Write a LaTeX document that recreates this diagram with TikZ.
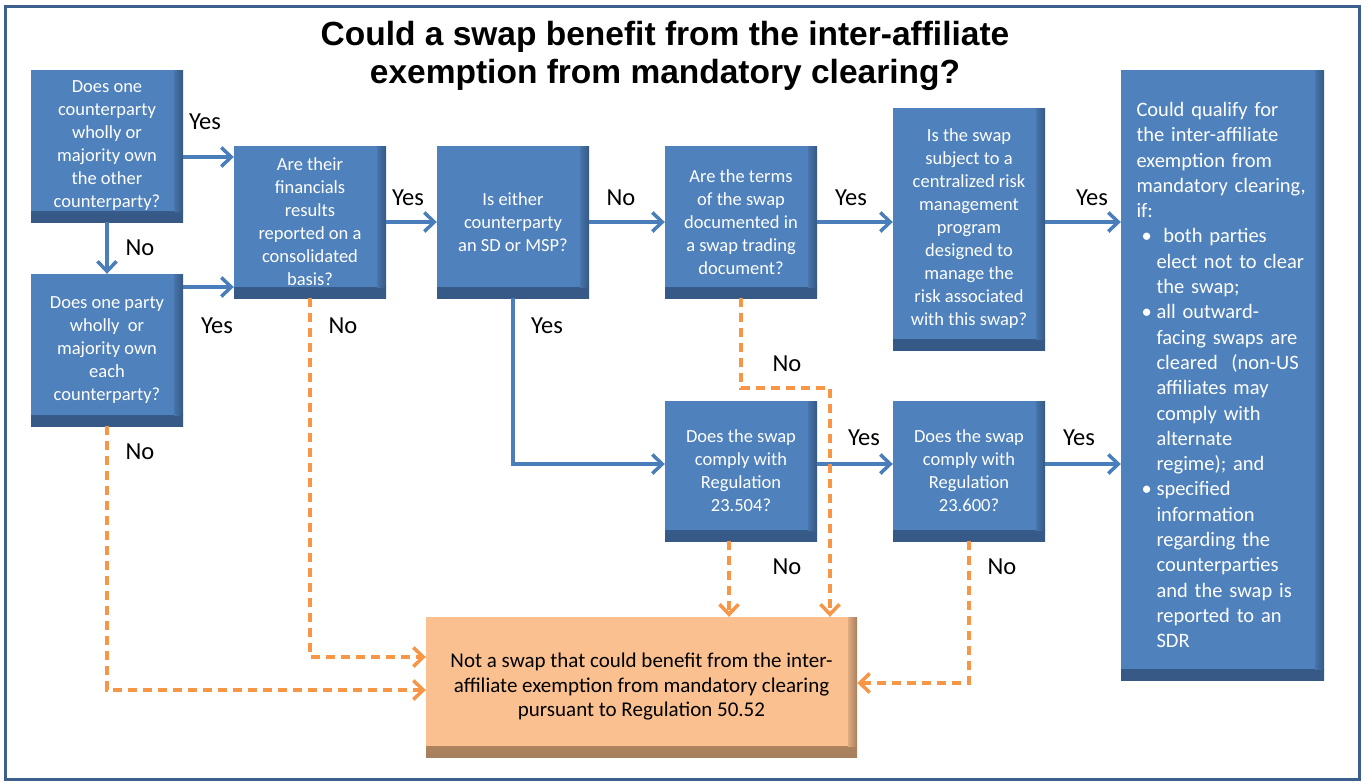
\documentclass[tikz,border=0pt]{standalone}
\usepackage{fontspec}
\setmainfont{Carlito}
\newfontfamily\titlefont{Liberation Sans}
\usetikzlibrary{arrows.meta}

\definecolor{boxblue}{HTML}{4F81BD}
\definecolor{boxdark}{HTML}{2D4B73}
\definecolor{lineblue}{HTML}{4A7EBB}
\definecolor{noorange}{HTML}{F79646}
\definecolor{outfill}{HTML}{FAC090}
\definecolor{outdark}{HTML}{8C6A4C}
\definecolor{frameblue}{HTML}{3C5F8D}

% soft edge shadings, dark at the far end
\pgfdeclareverticalshading{qbottom}{100bp}{color(0bp)=(boxdark); color(100bp)=(boxblue)}
\pgfdeclarehorizontalshading{qright}{100bp}{color(0bp)=(boxblue); color(100bp)=(boxdark)}
\pgfdeclareverticalshading{obottom}{100bp}{color(0bp)=(outdark); color(100bp)=(outfill)}
\pgfdeclarehorizontalshading{oright}{100bp}{color(0bp)=(outfill); color(100bp)=(outdark)}

\tikzset{
  qbox/.style={fill=boxblue, text=white, inner sep=0pt, align=center,
    font=\fontsize{18.5}{23}\selectfont,
    path picture={
      \shade[shading=qbottom]
        ([yshift=11pt]path picture bounding box.south west) rectangle (path picture bounding box.south east);
      \shade[shading=qright]
        ([xshift=-9pt]path picture bounding box.north east) rectangle ([yshift=11pt]path picture bounding box.south east);
    }},
  outbox/.style={fill=outfill, text=black, inner sep=0pt, align=center,
    font=\fontsize{21}{24.5}\selectfont,
    path picture={
      \shade[shading=obottom]
        ([yshift=11pt]path picture bounding box.south west) rectangle (path picture bounding box.south east);
      \shade[shading=oright]
        ([xshift=-9pt]path picture bounding box.north east) rectangle ([yshift=11pt]path picture bounding box.south east);
    }},
  ans/.style={inner sep=0pt, font=\fontsize{24.5}{28}\selectfont},
  yesline/.style={lineblue, line width=3.5pt, -{Straight Barb[length=10pt,width=19pt,line width=3.5pt]}},
  noline/.style={noorange, line width=3.5pt, dash pattern=on 9pt off 6pt,
    -{Straight Barb[length=10pt,width=19pt,line width=3.5pt]}}
}

\newcommand{\bul}{\makebox[20pt][l]{\hspace{5pt}\textbullet}}
\newcommand{\ind}{\hspace*{20pt}}

\begin{document}
\begin{tikzpicture}[x=1pt, y=-1pt]
  \useasboundingbox (0,0) rectangle (1364,782);
  \fill[white] (0,0) rectangle (1364,782);
  \draw[frameblue, line width=3pt] (5.5,6.5) rectangle (1359,779.5);

  \node[align=center, font=\titlefont\bfseries\fontsize{33.5}{38}\selectfont] (title) at (665,56)
    {Could a swap benefit from the inter-affiliate\\exemption from mandatory clearing?};

  % question boxes
  \node[qbox, minimum width=152, minimum height=152] (A) at (107,146)
    {Does one\\counterparty\\wholly or\\majority own\\the other\\counterparty?};
  \node[qbox, minimum width=152, minimum height=152] (B) at (107,350)
    {Does one party\\wholly\ \ or\\majority own\\each\\counterparty?};
  \node[qbox, minimum width=152, minimum height=152] (C) at (310,222)
    {Are their\\financials\\results\\reported on a\\consolidated\\basis?};
  \node[qbox, minimum width=152, minimum height=152] (D) at (513,222)
    {Is either\\counterparty\\an SD or MSP?};
  \node[qbox, minimum width=152, minimum height=152] (E) at (741,222)
    {Are the terms\\of the swap\\documented in\\a swap trading\\document?};
  \node[qbox, minimum width=152, minimum height=242] (F) at (969,229)
    {Is the swap\\subject to a\\centralized risk\\management\\program\\designed to\\manage the\\risk associated\\with this swap?};
  \node[qbox, minimum width=152, minimum height=140] (H) at (741,471)
    {Does the swap\\comply with\\Regulation\\23.504?};
  \node[qbox, minimum width=152, minimum height=140] (I) at (969,471)
    {Does the swap\\comply with\\Regulation\\23.600?};

  % outcomes
  \node[qbox, align=left, text width=172pt, minimum width=203, minimum height=610,
    font=\fontsize{20.5}{25.3}\selectfont] (G) at (1222.5,375)
    {Could qualify for\\the inter-affiliate\\exemption from\\mandatory clearing,\\if:\\
     \bul\ both parties\\\ind elect not to clear\\\ind the swap;\\
     \bul all outward-\\\ind facing swaps are\\\ind cleared\ \ (non-US\\\ind affiliates may\\\ind comply with\\\ind alternate\\\ind regime); and\\
     \bul specified\\\ind information\\\ind regarding the\\\ind counterparties\\\ind and the swap is\\\ind reported to an\\\ind SDR};
  \node[outbox, minimum width=431, minimum height=140] (J) at (641.5,687)
    {Not a swap that could benefit from the inter-\\affiliate exemption from mandatory clearing\\pursuant to Regulation 50.52};

  % yes paths
  \draw[yesline] ([yshift=-11pt]A.east) -- ([yshift=-11pt]A.east -| C.west);
  \draw[yesline] ([yshift=63pt]B.east) -- ([yshift=63pt]B.east -| C.west);
  \draw[yesline] (A.south) -- (B.north);
  \draw[yesline] (C.east) -- (D.west);
  \draw[yesline] (D.east) -- (E.west);
  \draw[yesline] (E.east) -- (E.east -| F.west);
  \draw[yesline] (E.east -| F.east) -- (E.east -| G.west);
  \draw[yesline] (D.south) |- ([yshift=7pt]H.west);
  \draw[yesline] ([yshift=7pt]H.east) -- ([yshift=7pt]I.west);
  \draw[yesline] ([yshift=7pt]I.east) -- ([yshift=7pt]I.east -| G.west);

  % no paths
  \draw[noline] (B.south) |- ([yshift=-3pt]J.west);
  \draw[noline] (C.south) |- ([yshift=30pt]J.west);
  \draw[noline] (E.south) -- ++(0,90) -| ([xshift=188.5pt]J.north);
  \draw[noline] ([xshift=-12pt]H.south) -- ([xshift=-12pt]H.south |- J.north);
  \draw[noline] (I.south) |- ([yshift=4pt]J.east);

  % answers
  \node[ans] (yAC) at (205,122) {Yes};
  \node[ans] (nAB) at (140,248) {No};
  \node[ans] (yBC) at (217,326) {Yes};
  \node[ans] (nCJ) at (343,326) {No};
  \node[ans] (yCD) at (408,198) {Yes};
  \node[ans] (nDE) at (621,198) {No};
  \node[ans] (yEF) at (851,198) {Yes};
  \node[ans] (yFG) at (1092,198) {Yes};
  \node[ans] (yDH) at (547,326) {Yes};
  \node[ans] (nEJ) at (787,364) {No};
  \node[ans] (yHI) at (864,438) {Yes};
  \node[ans] (yIG) at (1079,438) {Yes};
  \node[ans] (nBJ) at (140,452) {No};
  \node[ans] (nHJ) at (787,567) {No};
  \node[ans] (nIJ) at (1002,567) {No};
\end{tikzpicture}
\end{document}
